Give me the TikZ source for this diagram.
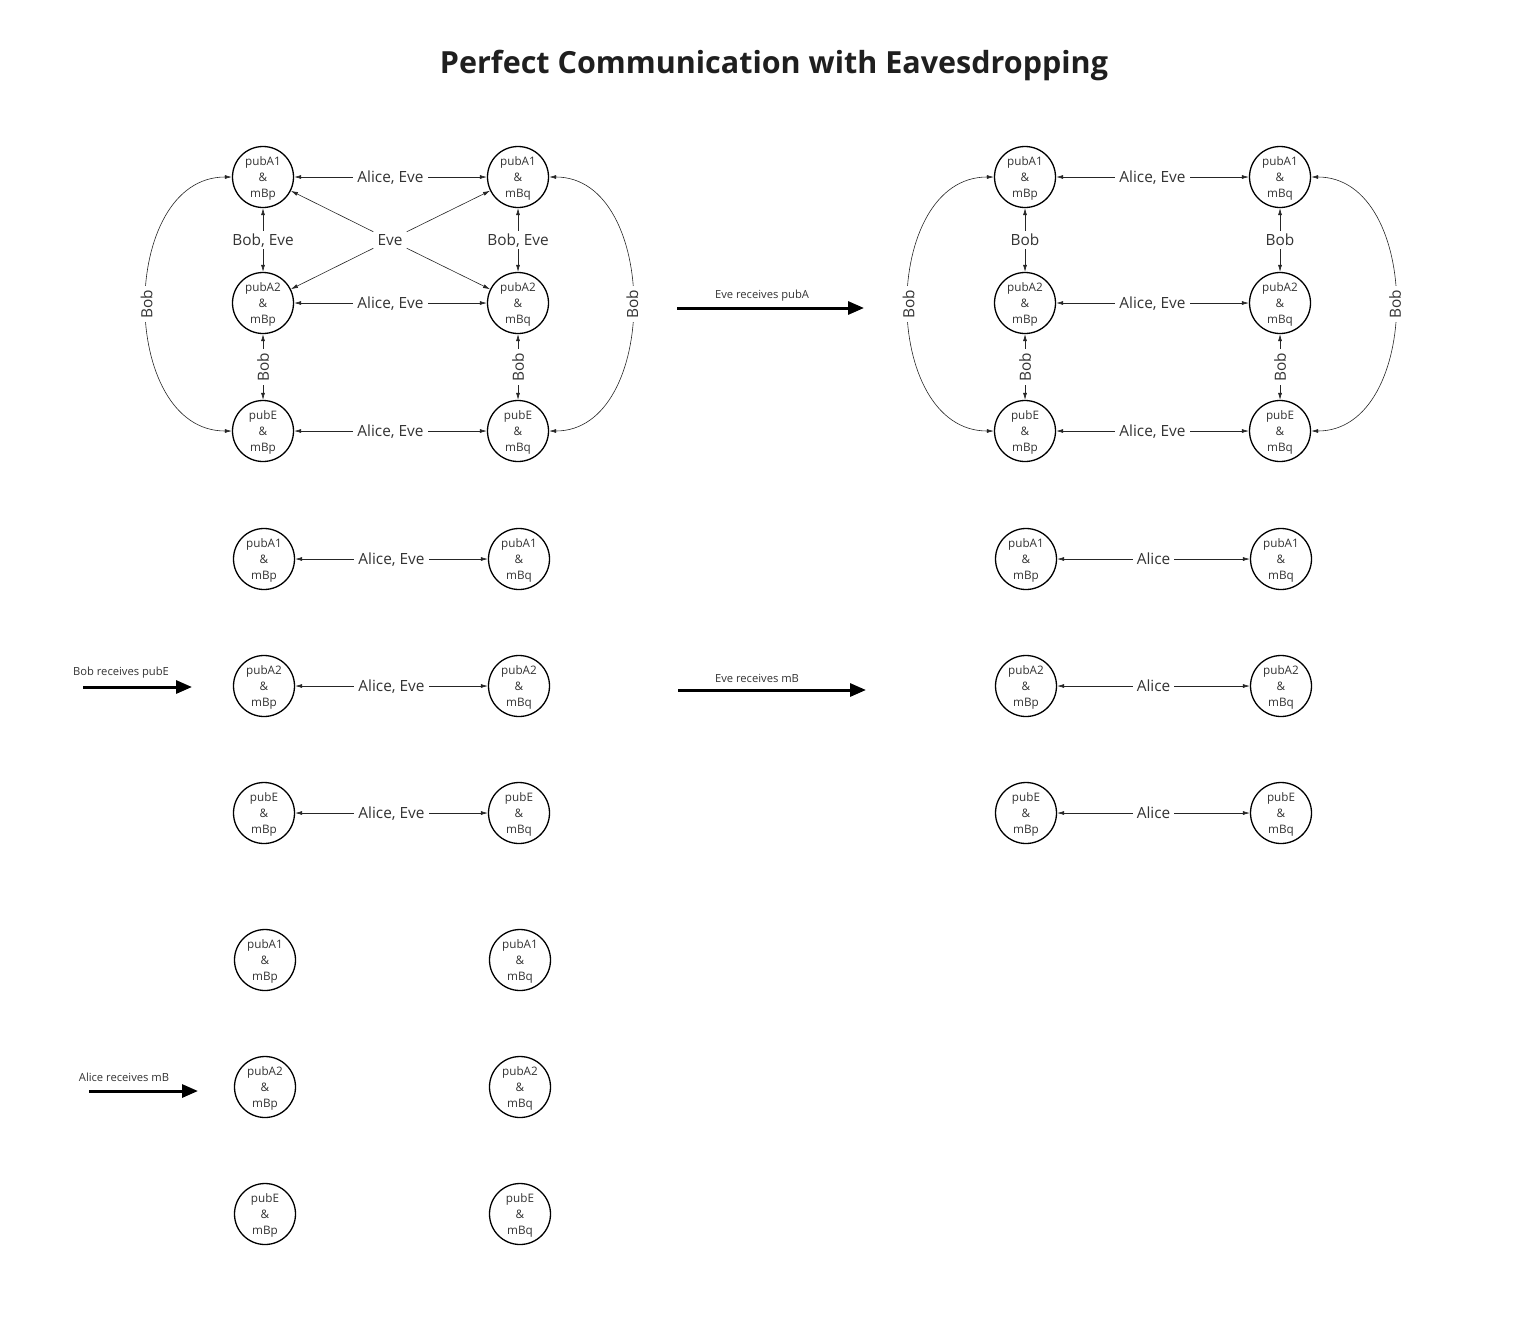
\documentclass[tikz,border=0pt]{standalone}
\usepackage{fontspec}
\setmainfont{Open Sans}
\usetikzlibrary{arrows.meta}
\definecolor{txt}{HTML}{333333}
\newcommand\tri[3]{\raisebox{-1.5pt}[\height][\depth]{\begin{tabular}{@{}c@{}}#1\\#2\\#3\end{tabular}}}
\begin{document}
\begin{tikzpicture}[x=1pt,y=-1pt,
  st/.style={circle,draw=black,line width=1.3pt,minimum size=61pt,inner sep=0pt,text=txt,font=\fontsize{11.7}{16}\selectfont},
  con/.style={line width=0.6pt,draw=black!85,{Latex[length=7pt,width=4pt]}-{Latex[length=7pt,width=4pt]}},
  one/.style={line width=0.6pt,draw=black!85,-{Latex[length=7pt,width=4pt]}},
  lbl/.style={fill=white,text=txt,inner xsep=4pt,inner ysep=3pt,text depth=0pt,font=\fontsize{15.4}{17}\selectfont},
  big/.style={line width=3pt,-{Triangle[length=16pt,width=13pt]}},
  small/.style={text=txt,font=\fontsize{11.2}{13}\selectfont}]
\useasboundingbox (0,0) rectangle (1528,1328);
\node[font=\bfseries\fontsize{30.5}{34}\selectfont,text=black!88] (title) at (774,65) {Perfect Communication with Eavesdropping};
% group A
\node[st] (A11) at (263,177) {\tri{pubA1}{\&}{mBp}};
\node[st] (A12) at (518,177) {\tri{pubA1}{\&}{mBq}};
\node[st] (A21) at (263,303) {\tri{pubA2}{\&}{mBp}};
\node[st] (A22) at (518,303) {\tri{pubA2}{\&}{mBq}};
\node[st] (A31) at (263,431) {\tri{pubE}{\&}{mBp}};
\node[st] (A32) at (518,431) {\tri{pubE}{\&}{mBq}};
\draw[con] (A11) -- node[lbl]{Alice, Eve} (A12);
\draw[con] (A21) -- node[lbl]{Alice, Eve} (A22);
\draw[con] (A31) -- node[lbl]{Alice, Eve} (A32);
\draw[con] (A11) -- node[lbl]{Bob, Eve} (A21);
\draw[con] (A12) -- node[lbl]{Bob, Eve} (A22);
\draw[con] (A21) -- node[lbl,rotate=90]{Bob} (A31);
\draw[con] (A22) -- node[lbl,rotate=90]{Bob} (A32);
\draw[con] (A11.west) .. controls (118,177) and (118,431) .. node[lbl,rotate=90]{Bob} (A31.west);
\draw[con] (A12.east) .. controls (660,177) and (660,431) .. node[lbl,rotate=90]{Bob} (A32.east);
\node[lbl,inner sep=4pt] (eve) at (390,240) {Eve};
\draw[one] (eve) -- (A11);
\draw[one] (eve) -- (A12);
\draw[one] (eve) -- (A21);
\draw[one] (eve) -- (A22);
% group B
\node[st] (B11) at (1025,177) {\tri{pubA1}{\&}{mBp}};
\node[st] (B12) at (1280,177) {\tri{pubA1}{\&}{mBq}};
\node[st] (B21) at (1025,303) {\tri{pubA2}{\&}{mBp}};
\node[st] (B22) at (1280,303) {\tri{pubA2}{\&}{mBq}};
\node[st] (B31) at (1025,431) {\tri{pubE}{\&}{mBp}};
\node[st] (B32) at (1280,431) {\tri{pubE}{\&}{mBq}};
\draw[con] (B11) -- node[lbl]{Alice, Eve} (B12);
\draw[con] (B21) -- node[lbl]{Alice, Eve} (B22);
\draw[con] (B31) -- node[lbl]{Alice, Eve} (B32);
\draw[con] (B11) -- node[lbl]{Bob} (B21);
\draw[con] (B12) -- node[lbl]{Bob} (B22);
\draw[con] (B21) -- node[lbl,rotate=90]{Bob} (B31);
\draw[con] (B22) -- node[lbl,rotate=90]{Bob} (B32);
\draw[con] (B11.west) .. controls (880,177) and (880,431) .. node[lbl,rotate=90]{Bob} (B31.west);
\draw[con] (B12.east) .. controls (1423,177) and (1423,431) .. node[lbl,rotate=90]{Bob} (B32.east);
% group C
\node[st] (C11) at (264,559) {\tri{pubA1}{\&}{mBp}};
\node[st] (C12) at (519,559) {\tri{pubA1}{\&}{mBq}};
\node[st] (C21) at (264,686) {\tri{pubA2}{\&}{mBp}};
\node[st] (C22) at (519,686) {\tri{pubA2}{\&}{mBq}};
\node[st] (C31) at (264,813) {\tri{pubE}{\&}{mBp}};
\node[st] (C32) at (519,813) {\tri{pubE}{\&}{mBq}};
\draw[con] (C11) -- node[lbl]{Alice, Eve} (C12);
\draw[con] (C21) -- node[lbl]{Alice, Eve} (C22);
\draw[con] (C31) -- node[lbl]{Alice, Eve} (C32);
% group D
\node[st] (D11) at (1026,559) {\tri{pubA1}{\&}{mBp}};
\node[st] (D12) at (1281,559) {\tri{pubA1}{\&}{mBq}};
\node[st] (D21) at (1026,686) {\tri{pubA2}{\&}{mBp}};
\node[st] (D22) at (1281,686) {\tri{pubA2}{\&}{mBq}};
\node[st] (D31) at (1026,813) {\tri{pubE}{\&}{mBp}};
\node[st] (D32) at (1281,813) {\tri{pubE}{\&}{mBq}};
\draw[con] (D11) -- node[lbl]{Alice} (D12);
\draw[con] (D21) -- node[lbl]{Alice} (D22);
\draw[con] (D31) -- node[lbl]{Alice} (D32);
% group E
\node[st] (E11) at (265,960) {\tri{pubA1}{\&}{mBp}};
\node[st] (E12) at (520,960) {\tri{pubA1}{\&}{mBq}};
\node[st] (E21) at (265,1087) {\tri{pubA2}{\&}{mBp}};
\node[st] (E22) at (520,1087) {\tri{pubA2}{\&}{mBq}};
\node[st] (E31) at (265,1214) {\tri{pubE}{\&}{mBp}};
\node[st] (E32) at (520,1214) {\tri{pubE}{\&}{mBq}};
% big arrows
\coordinate (p1s) at (677,308); \coordinate (p1e) at (864,308);
\draw[big] (p1s) -- (p1e);
\node[small] (l1) at (762,296) {Eve receives pubA};
\coordinate (p2s) at (678,690); \coordinate (p2e) at (866,690);
\draw[big] (p2s) -- (p2e);
\node[small] (l2) at (757,678) {Eve receives mB};
\coordinate (p3s) at (83,687); \coordinate (p3e) at (192,687);
\draw[big] (p3s) -- (p3e);
\node[small] (l3) at (121,673) {Bob receives pubE};
\coordinate (p4s) at (89,1091); \coordinate (p4e) at (198,1091);
\draw[big] (p4s) -- (p4e);
\node[small] (l4) at (124,1077) {Alice receives mB};
\end{tikzpicture}
\end{document}
